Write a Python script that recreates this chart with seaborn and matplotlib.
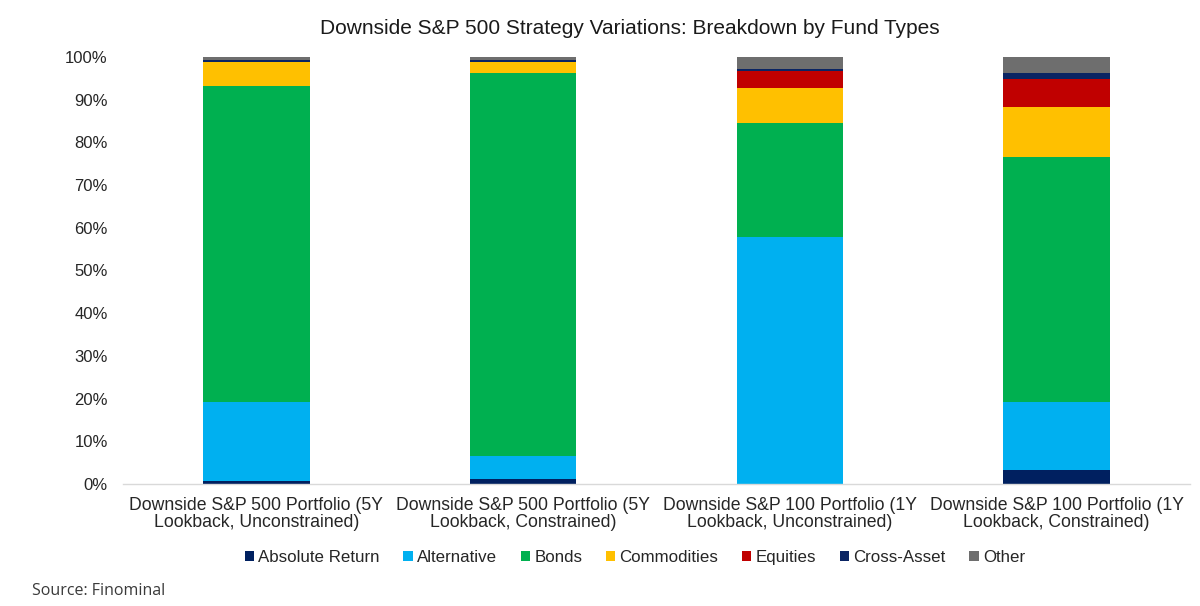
import numpy as np
import pandas as pd
import matplotlib
matplotlib.use("Agg")
import matplotlib.pyplot as plt
from matplotlib.patches import Rectangle
from matplotlib.ticker import PercentFormatter, FixedLocator
import seaborn as sns

categories = [
    "Downside S&P 500 Portfolio (5Y\nLookback, Unconstrained)",
    "Downside S&P 500 Portfolio (5Y\nLookback, Constrained)",
    "Downside S&P 100 Portfolio (1Y\nLookback, Unconstrained)",
    "Downside S&P 100 Portfolio (1Y\nLookback, Constrained)",
]
absolute_return = [0.7, 1.1, 0.0, 3.3]
alternative = [18.5, 5.5, 57.8, 15.9]
bonds = [74.0, 89.6, 26.7, 57.4]
commodities = [5.6, 2.6, 8.2, 11.8]
equities = [0.0, 0.0, 3.9, 6.5]
cross_asset = [0.6, 0.6, 0.6, 1.3]
other = [0.6, 0.6, 2.8, 3.8]

series_names = ["Absolute Return", "Alternative", "Bonds", "Commodities",
                "Equities", "Cross-Asset", "Other"]
series_values = [absolute_return, alternative, bonds, commodities,
                 equities, cross_asset, other]
colors = ["#002060", "#00B0F0", "#00B050", "#FFC000", "#C00000", "#0A2463", "#6E6E6E"]

sns.set_theme(style="white")
plt.rcParams["font.family"] = ["Liberation Sans", "DejaVu Sans"]

cum = np.zeros(len(categories))
cums = []
for vals in series_values:
    cum = cum + np.array(vals)
    cums.append(cum.copy())

fig = plt.figure(figsize=(12, 6.06), dpi=100)
ax = fig.add_axes([0.1025, 0.2013, 0.8892, 0.7047])

for name, c, color in reversed(list(zip(series_names, cums, colors))):
    d = pd.DataFrame({"category": categories, "value": c})
    sns.barplot(data=d, x="category", y="value", color=color, width=0.4,
                ax=ax, saturation=1, linewidth=0, order=categories)

ax.set_ylim(0, 100)
ax.set_xlim(-0.5, len(categories) - 0.5)
ax.yaxis.set_major_locator(FixedLocator(np.arange(0, 101, 10)))
ax.yaxis.set_major_formatter(PercentFormatter(decimals=0))
ax.set_xlabel("")
ax.set_ylabel("")
for s in ["top", "right", "left"]:
    ax.spines[s].set_visible(False)
ax.spines["bottom"].set_color("#D9D9D9")
ax.spines["bottom"].set_linewidth(1.0)
ax.tick_params(axis="y", length=0, pad=11, labelsize=12, labelcolor="#262626")
ax.tick_params(axis="x", which="major", length=0, pad=9, labelsize=12.7, labelcolor="#262626")
for lbl in ax.get_xticklabels():
    lbl.set_linespacing(1.05)
ax.set_xticks(np.arange(-0.5, len(categories), 1.0), minor=True)
ax.tick_params(axis="x", which="minor", length=5, color="#D9D9D9", width=1.0, direction="out")
ax.grid(False)

fig.text(0.525, 0.953, "Downside S&P 500 Strategy Variations: Breakdown by Fund Types",
         ha="center", va="center", fontsize=15, color="#1a1a1a")

handles = [Rectangle((0, 0), 1, 1, facecolor=c, edgecolor="none") for c in colors]
fig.legend(handles, series_names, loc="center", bbox_to_anchor=(0.529, 0.080), ncol=7,
           frameon=False, fontsize=12.2, handlelength=0.55, handleheight=0.55,
           handletextpad=0.25, columnspacing=1.4, labelcolor="#262626")

fig.text(0.027, 0.025, "Source: Finominal", ha="left", va="center", fontsize=11.5,
         color="#3a3a3a", family=["Open Sans", "DejaVu Sans"])

fig.savefig("out.png", dpi=100)
